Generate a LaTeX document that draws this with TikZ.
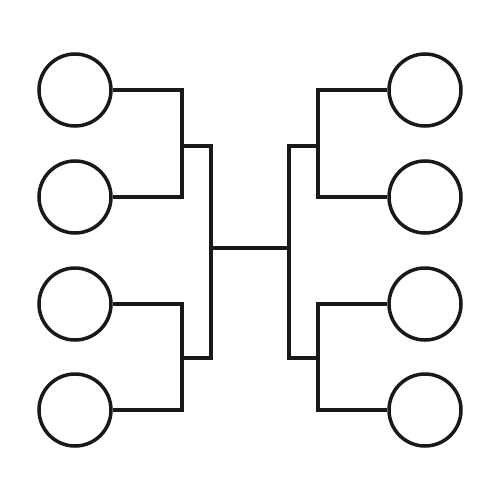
\documentclass[tikz,border=0pt]{standalone}
\begin{document}
\begin{tikzpicture}[x=0.02cm,y=-0.02cm,
  leaf/.style={circle,draw=black!90,line width=2pt,minimum size=1.44cm,inner sep=0pt},
  wire/.style={draw=black!90,line width=2pt,line join=miter}]
\path[use as bounding box] (0,0) rectangle (500,500);
% circles
\node[leaf] (l1) at (75,90) {};
\node[leaf] (l2) at (75,197) {};
\node[leaf] (l3) at (75,304) {};
\node[leaf] (l4) at (75,410) {};
\node[leaf] (r1) at (425,90) {};
\node[leaf] (r2) at (425,197) {};
\node[leaf] (r3) at (425,304) {};
\node[leaf] (r4) at (425,410) {};
% junction coordinates
\coordinate (lb1) at (182,146);
\coordinate (lb2) at (182,358);
\coordinate (rb1) at (318,146);
\coordinate (rb2) at (318,358);
\coordinate (lm) at (211,248);
\coordinate (rm) at (289,248);
% left brackets
\draw[wire] (l1.east) -| (lb1) |- (l2.east);
\draw[wire] (l3.east) -| (lb2) |- (l4.east);
\draw[wire] (lb1) -| (lm) |- (lb2);
% right brackets
\draw[wire] (r1.west) -| (rb1) |- (r2.west);
\draw[wire] (r3.west) -| (rb2) |- (r4.west);
\draw[wire] (rb1) -| (rm) |- (rb2);
% centre bar
\draw[wire] (lm) -- (rm);
\end{tikzpicture}
\end{document}
